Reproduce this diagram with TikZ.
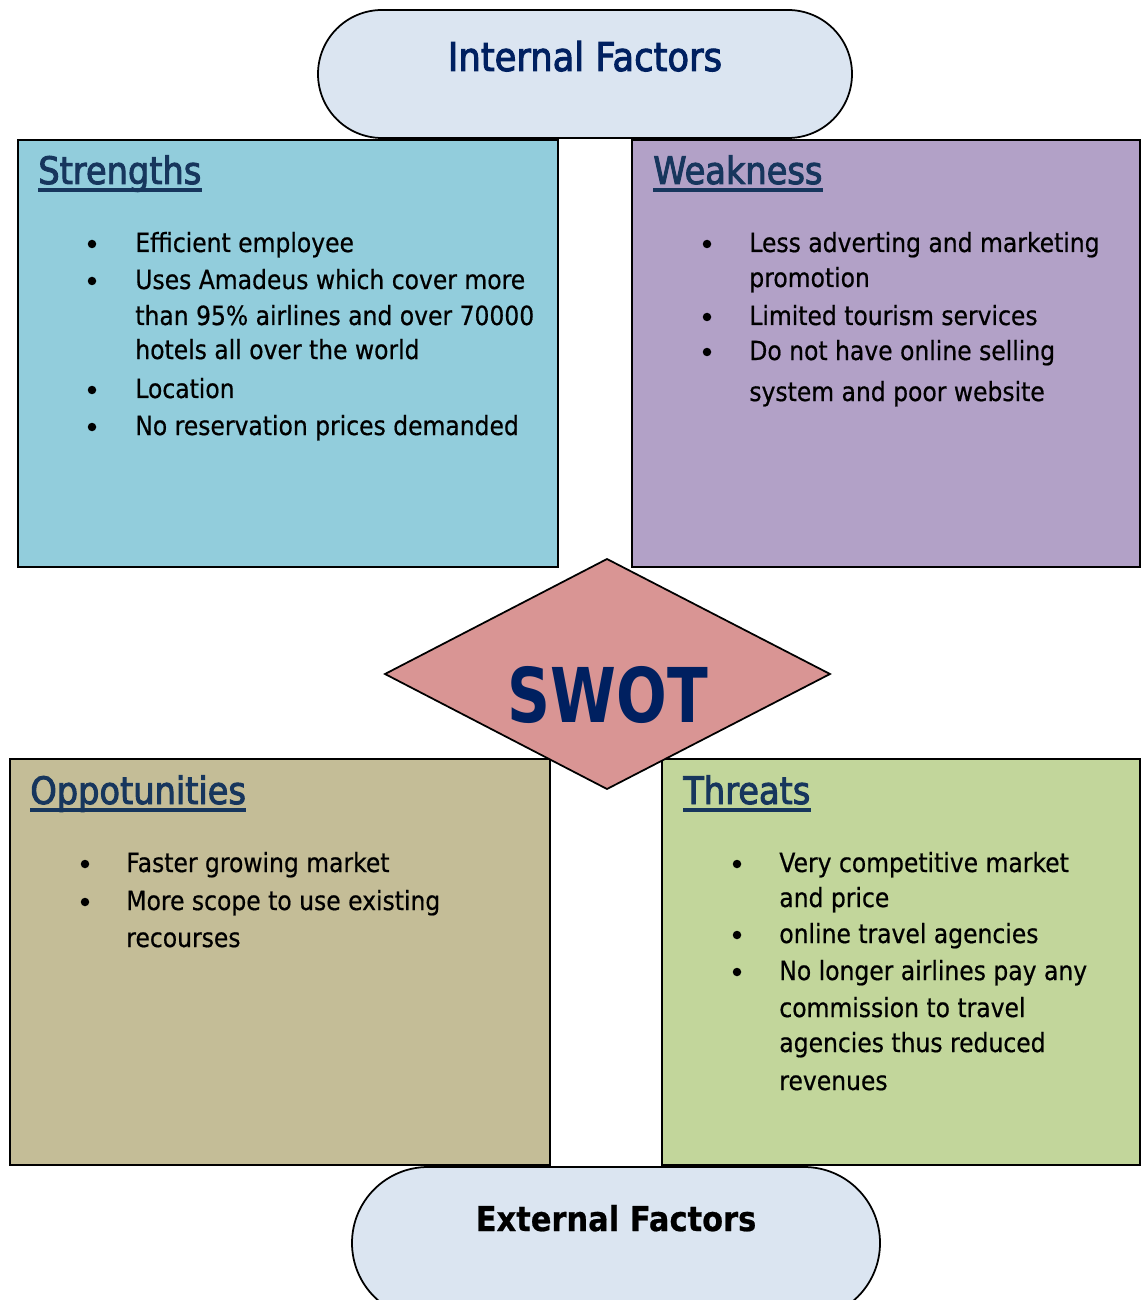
\documentclass[tikz,border=0pt]{standalone}
\usepackage{xcolor}
\usepackage{fontspec}
\setmainfont{DejaVu Sans}[FakeStretch=0.89,RawFeature={embolden=0.6}]
\newfontfamily\swotfont{DejaVu Sans}[FakeStretch=0.79]
\newfontfamily\headfont{DejaVu Sans}[FakeStretch=0.89,RawFeature={embolden=2.5}]
\usepackage{tikz}

\definecolor{pillfill}{HTML}{DBE5F1}
\definecolor{strfill}{HTML}{92CDDC}
\definecolor{weakfill}{HTML}{B2A1C7}
\definecolor{oppfill}{HTML}{C4BD97}
\definecolor{thrfill}{HTML}{C2D69B}
\definecolor{swotfill}{HTML}{D99594}
\definecolor{navy}{HTML}{002060}
\definecolor{headcol}{HTML}{17365D}

\begin{document}
\begin{tikzpicture}[x=0.02cm,y=-0.02cm,
    pill/.style={draw,line width=1pt,fill=pillfill,rounded corners=1.28cm},
    box/.style={draw,line width=1pt},
    head/.style={anchor=base west,inner sep=0pt,text=headcol,font=\headfont\fontsize{21.5}{26}\selectfont},
    uline/.style={headcol,line width=1.8pt},
    line/.style={anchor=base west,inner sep=0pt,font=\fontsize{15}{18}\selectfont},
    dot/.style={circle,fill,inner sep=0pt,minimum size=0.17cm}]
    \clip (0,0) rectangle (1141,1300);

    % factor pills
    \draw[pill] (318,10) rectangle (852,138);
    \node[inner sep=0pt,anchor=base,text=navy,font=\headfont\fontsize{22.6}{26}\selectfont] (int) at (585,71) {Internal Factors};
    \draw[pill,rounded corners=1.52cm] (352,1167) rectangle (880,1319);
    \node[inner sep=0pt,anchor=base,font=\bfseries\fontsize{19.5}{24}\selectfont] (ext) at (616,1231) {External Factors};

    % the four boxes
    \draw[box,fill=strfill] (18,140) rectangle (558,567);
    \draw[box,fill=weakfill] (632,140) rectangle (1140,567);
    \draw[box,fill=oppfill] (10,759) rectangle (550,1165);
    \draw[box,fill=thrfill] (662,759) rectangle (1140,1165);

    % centre
    \draw[box,fill=swotfill] (385,674) -- (607,559) -- (830,674) -- (607,789) -- cycle;
    \node[inner sep=0pt,anchor=base,text=navy,font=\swotfont\bfseries\fontsize{43}{50}\selectfont] (swot) at (608,722) {SWOT};

    % headings
    \node[head] (sh) at (38,184) {Strengths};
    \node[head] (wh) at (653,184) {Weakness};
    \node[head] (oh) at (30,804) {Oppotunities};
    \node[head] (th) at (683,804) {Threats};
    \foreach \h in {sh,wh,oh,th}
      \draw[uline] ([yshift=-3.4pt]\h.base west) -- ([yshift=-3.4pt]\h.base east);

    % strengths
    \node[dot] (sb1) at (92,244) {};
    \node[line] (s1) at (135,252) {Efficient employee};
    \node[dot] (sb2) at (92,281) {};
    \node[line] (s2) at (135,289) {Uses Amadeus which cover more};
    \node[line] (s3) at (135,325) {than 95\% airlines and over 70000};
    \node[line] (s4) at (135,359) {hotels all over the world};
    \node[dot] (sb3) at (92,390) {};
    \node[line] (s5) at (135,398) {Location};
    \node[dot] (sb4) at (92,427) {};
    \node[line] (s6) at (135,435) {No reservation prices demanded};

    % weakness
    \node[dot] (wb1) at (707,244) {};
    \node[line] (w1) at (749,252) {Less adverting and marketing};
    \node[line] (w2) at (749,287) {promotion};
    \node[dot] (wb2) at (707,317) {};
    \node[line] (w3) at (749,325) {Limited tourism services};
    \node[dot] (wb3) at (707,352) {};
    \node[line] (w4) at (749,360) {Do not have online selling};
    \node[line] (w5) at (749,401) {system and poor website};

    % opportunities
    \node[dot] (ob1) at (85,864) {};
    \node[line] (o1) at (126,872) {Faster growing market};
    \node[dot] (ob2) at (85,902) {};
    \node[line] (o2) at (126,910) {More scope to use existing};
    \node[line] (o3) at (126,947) {recourses};

    % threats
    \node[dot] (tb1) at (737,864) {};
    \node[line] (t1) at (779,872) {Very competitive market};
    \node[line] (t2) at (779,907) {and price};
    \node[dot] (tb2) at (737,935) {};
    \node[line] (t3) at (779,943) {online travel agencies};
    \node[dot] (tb3) at (737,972) {};
    \node[line] (t4) at (779,980) {No longer airlines pay any};
    \node[line] (t5) at (779,1017) {commission to travel};
    \node[line] (t6) at (779,1052) {agencies thus reduced};
    \node[line] (t7) at (779,1090) {revenues};
  \end{tikzpicture}
\end{document}
